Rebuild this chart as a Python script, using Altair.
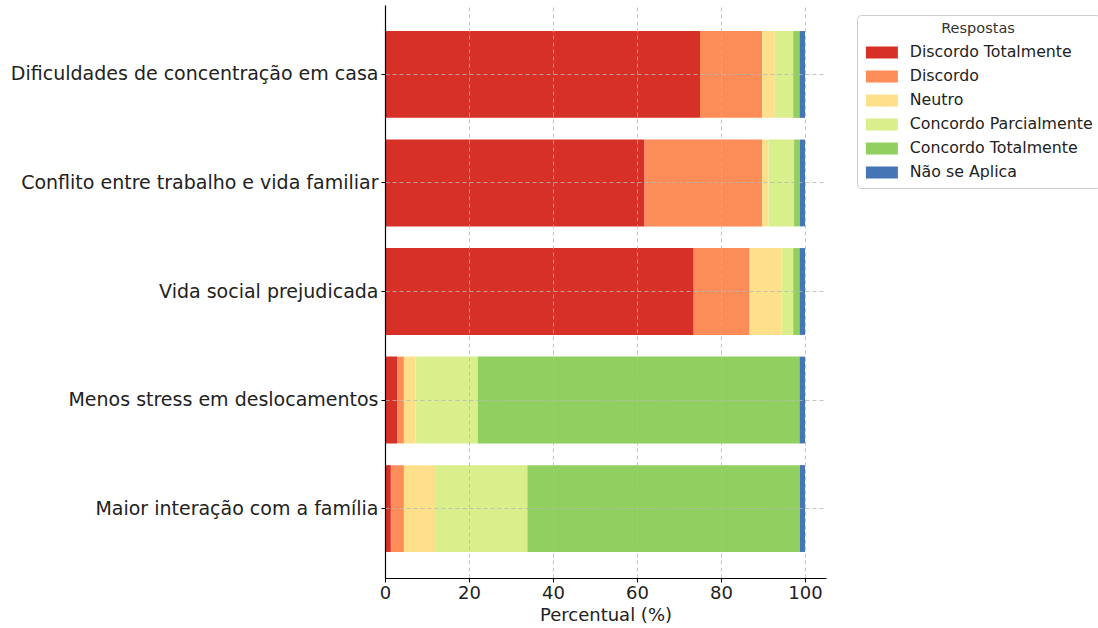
import altair as alt
import pandas as pd

# Survey statements (top to bottom) and the response scale (left to right)
statements = [
    "Dificuldades de concentração em casa",
    "Conflito entre trabalho e vida familiar",
    "Vida social prejudicada",
    "Menos stress em deslocamentos",
    "Maior interação com a família",
]
responses = [
    "Discordo Totalmente",
    "Discordo",
    "Neutro",
    "Concordo Parcialmente",
    "Concordo Totalmente",
    "Não se Aplica",
]
colors = ["#d73027", "#fc8d59", "#fee08b", "#d9ef8b", "#91cf60", "#4575b4"]

# Share of answers (%) per statement, one list per response
discordo_totalmente = [75.0, 61.8, 73.5, 2.9, 1.4]
discordo = [14.8, 28.0, 13.3, 1.6, 3.1]
neutro = [3.0, 1.5, 7.6, 2.8, 7.4]
concordo_parcialmente = [4.4, 6.1, 2.8, 14.8, 22.0]
concordo_totalmente = [1.5, 1.4, 1.5, 76.6, 64.9]
nao_se_aplica = [1.3, 1.2, 1.3, 1.3, 1.2]

series = [
    discordo_totalmente,
    discordo,
    neutro,
    concordo_parcialmente,
    concordo_totalmente,
    nao_se_aplica,
]

rows = []
for r_idx, (resp, vals) in enumerate(zip(responses, series)):
    for stmt, v in zip(statements, vals):
        rows.append({"statement": stmt, "response": resp, "value": v, "rank": r_idx})
df = pd.DataFrame(rows)

FONT = "DejaVu Sans"
TEXT = "#222222"
GRID = "#b8b8b8"

# wide rectangle used as legend swatch (extends to the right of its anchor)
swatch = "M-1,-1L4.33,-1L4.33,1L-1,1Z"

chart = (
    alt.Chart(df)
    .mark_bar()
    .encode(
        x=alt.X(
            "value:Q",
            stack="zero",
            scale=alt.Scale(domain=[0, 105], nice=False, zero=True),
            axis=alt.Axis(
                title="Percentual (%)",
                values=[0, 20, 40, 60, 80, 100],
                format="d",
                labelFlush=False,
                grid=True,
                gridColor=GRID,
                gridDash=[4, 3],
                gridWidth=0.8,
                domainColor="#000000",
                domainWidth=1.2,
                tickColor="#000000",
                tickSize=4,
                tickWidth=1,
                labelFontSize=18,
                labelColor=TEXT,
                labelPadding=2,
                titleFontSize=18,
                titleFontWeight="normal",
                titleColor=TEXT,
                titlePadding=4,
                zindex=1,
            ),
        ),
        y=alt.Y(
            "statement:N",
            sort=statements,
            scale=alt.Scale(paddingInner=0.2, paddingOuter=0.24),
            axis=alt.Axis(
                title=None,
                bandPosition=0.5,
                grid=True,
                gridColor=GRID,
                gridDash=[4, 3],
                gridWidth=0.8,
                domainColor="#000000",
                domainWidth=1.2,
                tickColor="#000000",
                tickSize=4,
                tickWidth=1,
                labelFontSize=19,
                labelColor=TEXT,
                labelPadding=3,
                labelLimit=500,
                zindex=1,
            ),
        ),
        color=alt.Color(
            "response:N",
            scale=alt.Scale(domain=responses, range=colors),
            legend=alt.Legend(
                title="Respostas",
                orient="none",
                legendX=472,
                legendY=10,
                titleAnchor="middle",
                titleFontSize=14.5,
                titleFontWeight="normal",
                titleColor="#333333",
                titlePadding=8,
                labelFontSize=15.8,
                labelColor=TEXT,
                labelLimit=300,
                labelOffset=30,
                symbolType=swatch,
                symbolSize=144,
                symbolStrokeWidth=0,
                symbolOpacity=1,
                rowPadding=7,
                padding=7,
                strokeColor="#cccccc",
                fillColor="#ffffff",
                cornerRadius=4,
            ),
        ),
        order=alt.Order("rank:Q"),
    )
    .properties(
        width=441,
        height=573,
        autosize="none",
        padding={"left": 385, "top": 5, "right": 272, "bottom": 50},
    )
    .configure(font=FONT)
    .configure_view(stroke=None)
)

chart.save("out.html", embed_options={"renderer": "svg", "actions": False})
